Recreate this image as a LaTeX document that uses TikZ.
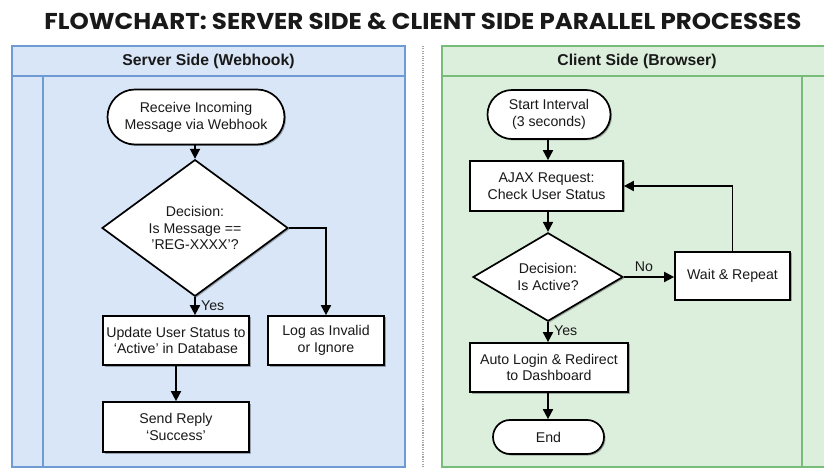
\documentclass[tikz,border=0pt]{standalone}
\usepackage{fontspec}
\setmainfont{Liberation Sans}
\newfontfamily\titlefont{Poppins}
\usetikzlibrary{shapes.geometric,shapes.misc,arrows.meta,shadows}

\definecolor{srvfill}{HTML}{D8E6F7}
\definecolor{srvline}{HTML}{6E9BD3}
\definecolor{clifill}{HTML}{DCEFDC}
\definecolor{cliline}{HTML}{78BC7A}

\tikzset{
  txt/.style={font=\fontsize{14.2}{16.8}\selectfont, align=center, text=black!90},
  shade/.style={drop shadow={shadow xshift=1.5bp, shadow yshift=-1.5bp, opacity=0.3, fill=black}},
  stepbox/.style={txt, rectangle, draw=black, line width=1.7bp, fill=white, shade,
                  inner sep=0pt},
  term/.style={txt, rounded rectangle, draw=black, line width=1.7bp, fill=white, shade,
               inner sep=0pt},
  decide/.style={txt, diamond, draw=black, line width=1.7bp, fill=white, shade,
                 inner sep=0pt},
  arr/.style={line width=1.8bp, draw=black, -{Triangle[length=10bp,width=10bp]}},
  lbl/.style={font=\fontsize{14.2}{16.8}\selectfont, text=black!90},
  head/.style={font=\fontsize{15.8}{18}\selectfont\bfseries, text=black!90},
  lane/.style={line width=1.5bp},
}

\begin{document}
\begin{tikzpicture}[x=1bp, y=-1bp]
\useasboundingbox (0,0) rectangle (824,468);
\fill[white] (0,0) rectangle (824,468);
\clip (0,0) rectangle (824,468);

% title
\node[font=\titlefont\bfseries\fontsize{23}{26}\selectfont, text=black!90, xscale=1.07] (title) at (423,21)
  {FLOWCHART: SERVER SIDE \& CLIENT SIDE PARALLEL PROCESSES};

% separator between the two lanes
\draw[gray!70, line width=1.1bp, dash pattern=on 1.1bp off 1.3bp] (423,46) -- (423,467);

% server lane
\draw[lane, draw=srvline, fill=srvfill] (12,46) rectangle (405,467);
\draw[lane, draw=srvline] (12,76) -- (405,76);
\draw[lane, draw=srvline] (43,76) -- (43,467);
\node[head] (srvhead) at (208.5,61) {Server Side (Webhook)};

% client lane
\draw[lane, draw=cliline, fill=clifill] (442,46) rectangle (832,467);
\draw[lane, draw=cliline] (442,76) -- (832,76);
\draw[lane, draw=cliline] (802,76) -- (802,467);
\node[head] (clihead) at (637,61) {Client Side (Browser)};

% server flow
\node[term, minimum width=177bp, minimum height=55bp] (recv) at (196,117)
  {Receive Incoming\\Message via Webhook};
\node[decide, minimum width=186bp, minimum height=110bp] (isreg) at (195,228)
  {Decision:\\Is Message ==\\'REG-XXXX'?};
\node[stepbox, minimum width=146bp, minimum height=49bp] (upd) at (176,340.5)
  {Update User Status to\\‘Active’ in Database};
\node[stepbox, minimum width=116bp, minimum height=49bp] (logi) at (326,340.5)
  {Log as Invalid\\or Ignore};
\node[stepbox, minimum width=146bp, minimum height=50bp] (reply) at (176,427)
  {Send Reply\\‘Success’};

\draw[arr] (isreg.north |- recv.south) -- (isreg.north);
\draw[arr] (isreg.east) -| (logi.north);
\draw[arr] (isreg.south) -- (isreg.south |- upd.north)
  node[lbl, pos=0.45, right=2bp] {Yes};
\draw[arr] (upd) -- (reply);

% client flow
\node[term, minimum width=123bp, minimum height=49bp] (start) at (549,114.5)
  {Start Interval\\(3 seconds)};
\node[stepbox, minimum width=153bp, minimum height=50bp] (ajax) at (546.5,186)
  {AJAX Request:\\Check User Status};
\node[decide, minimum width=150bp, minimum height=80bp] (active) at (548,277)
  {Decision:\\Is Active?};
\node[stepbox, minimum width=115bp, minimum height=48bp] (wait) at (732.5,276)
  {Wait \& Repeat};
\node[stepbox, minimum width=158bp, minimum height=49bp] (login) at (549,367.5)
  {Auto Login \& Redirect\\to Dashboard};
\node[term, minimum width=111bp, minimum height=34bp] (fin) at (548.5,437) {End};

\draw[arr] (active.north |- start.south) -- (active.north |- ajax.north);
\draw[arr] (active.north |- ajax.south) -- (active.north);
\draw[arr] (active.east) -- (active.east -| wait.west)
  node[lbl, pos=0.4, above=1bp] {No};
\draw[arr] (wait.north) |- (ajax.east);
\draw[arr] (active.south) -- (active.south |- login.north)
  node[lbl, pos=0.45, right=2bp] {Yes};
\draw[arr] (active.south |- login.south) -- (active.south |- fin.north);
\end{tikzpicture}
\end{document}
